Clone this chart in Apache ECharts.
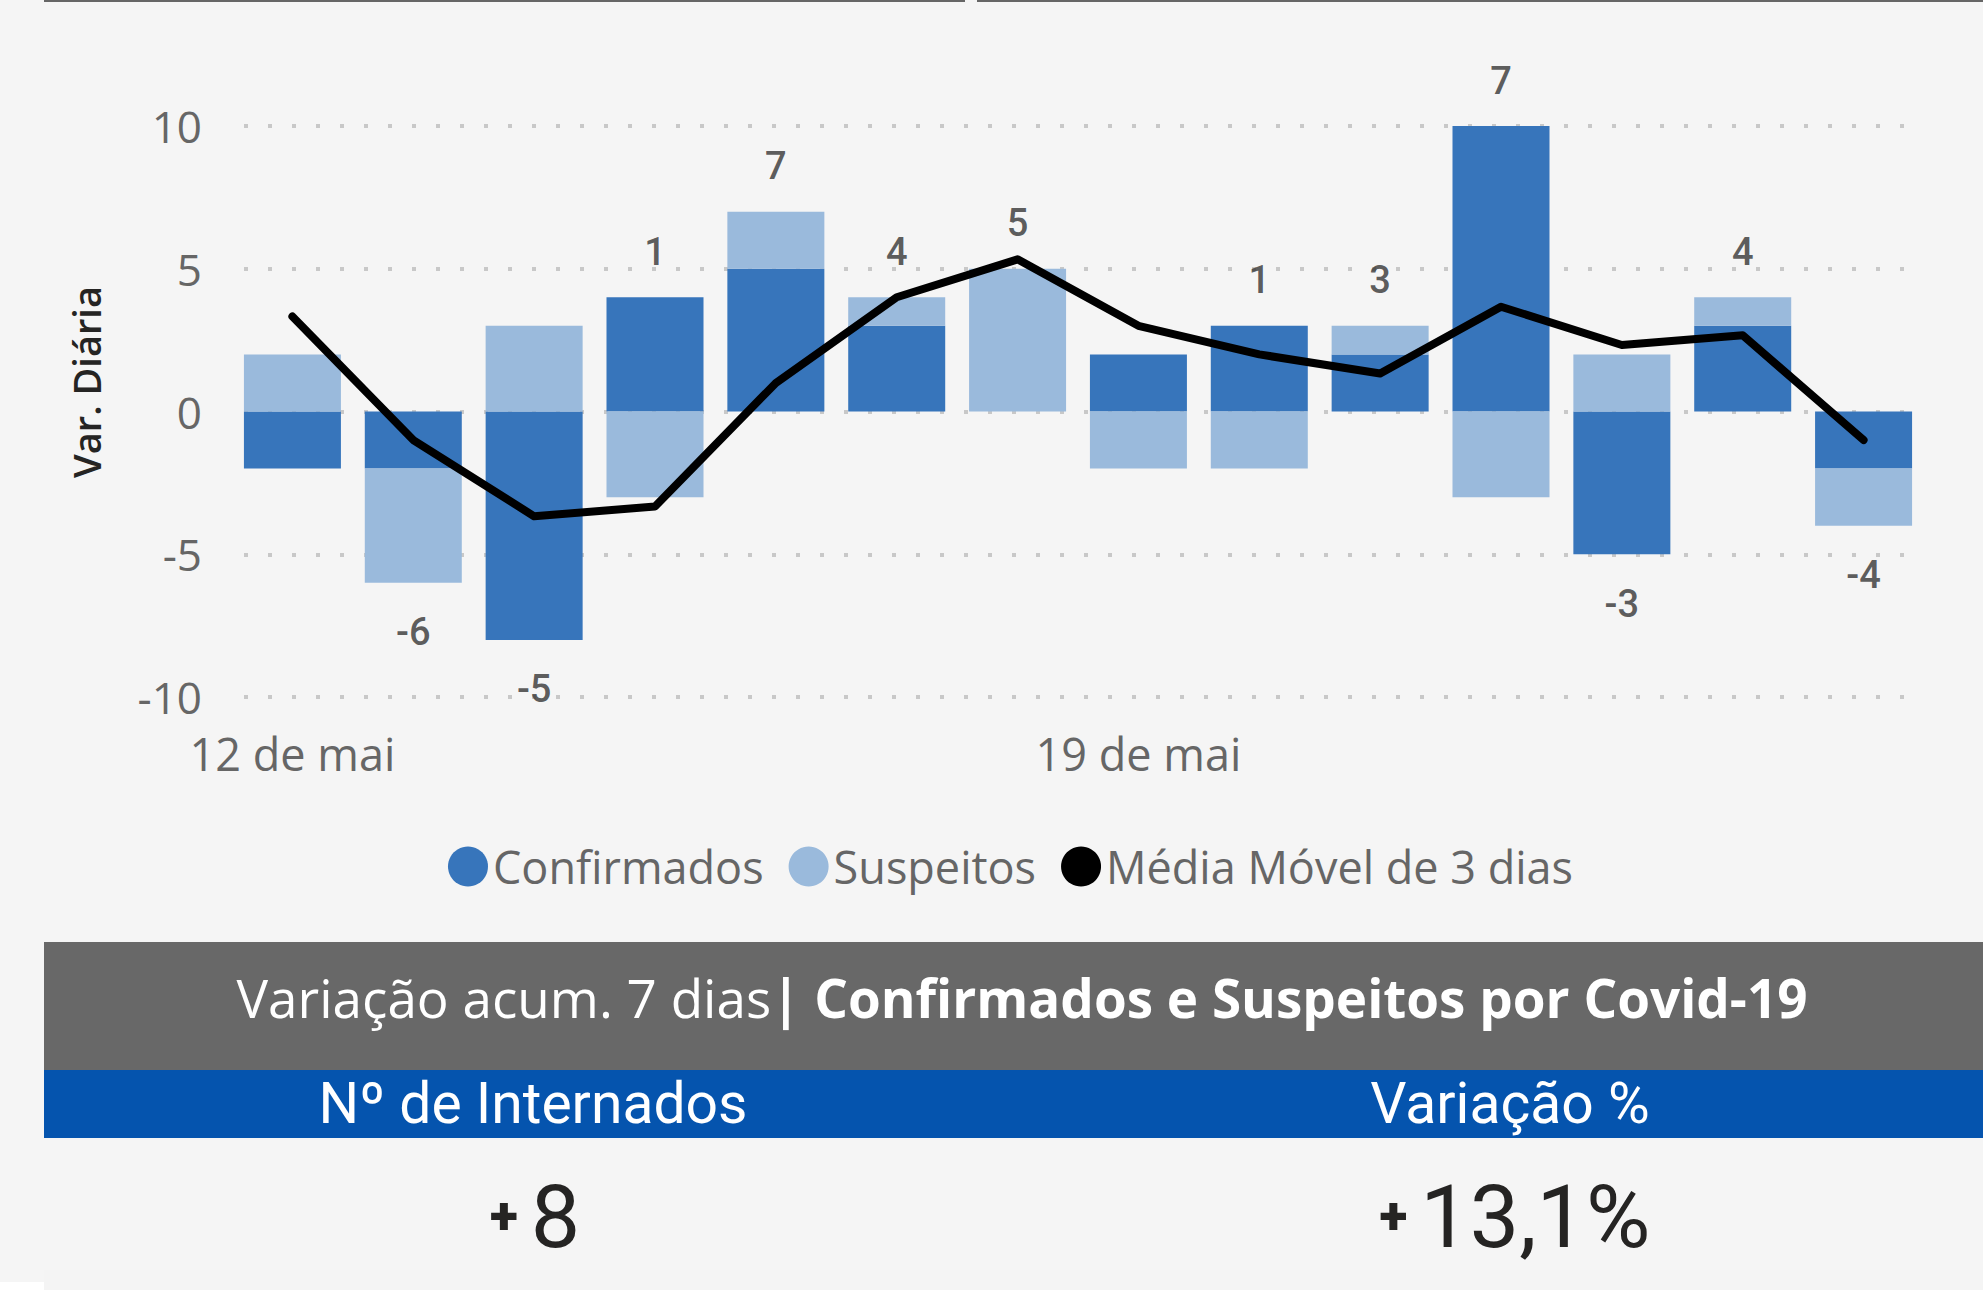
<!DOCTYPE html>
<html>
<head>
<meta charset="utf-8">
<script src="https://cdn.jsdelivr.net/npm/echarts@6/dist/echarts.min.js"></script>
<style>
  html, body { margin: 0; padding: 0; background: #ffffff; }
  #chart { width: 1983px; height: 1303px; }
</style>
</head>
<body>
<div id="chart"></div>
<script>
// ---- data ----
const categories = ['12 de mai','13 de mai','14 de mai','15 de mai','16 de mai','17 de mai','18 de mai',
                    '19 de mai','20 de mai','21 de mai','22 de mai','23 de mai','24 de mai','25 de mai'];
const confirmados = [-2, -2, -8, 4, 5, 3, 0, 2, 3, 2, 10, -5, 3, -2];
const suspeitos   = [ 2, -4,  3, -3, 2, 1, 5, -2, -2, 1, -3, 2, 1, -2];
const mediaMovel  = [3.33, -1, -3.67, -3.33, 1, 4, 5.33, 3, 2, 1.33, 3.67, 2.33, 2.67, -1];
const totalLabels = [null, -6, -5, 1, 7, 4, 5, null, 1, 3, 7, -3, 4, -4];
const seriesNames = ['Confirmados', 'Suspeitos', 'Média Móvel de 3 dias'];
const headerRegular = 'Variação acum. 7 dias';
const headerBold = '| Confirmados e Suspeitos por Covid-19';
const kpiTitles = ['Nº de Internados', 'Variação %'];
const kpiValues = ['8', '13,1%'];

// ---- build ----
const chart = echarts.init(document.getElementById('chart'), null, { renderer: 'svg' });

const totalPoints = [];
totalLabels.forEach((t, i) => {
  if (t === null) return;
  const pos = Math.max(confirmados[i], 0) + Math.max(suspeitos[i], 0);
  const neg = Math.min(confirmados[i], 0) + Math.min(suspeitos[i], 0);
  totalPoints.push({
    value: [i, t > 0 ? pos : neg],
    label: { position: t > 0 ? 'top' : 'bottom', distance: t > 0 ? 26 : 30, formatter: String(t) }
  });
});

const axisFont = '"Open Sans", "Noto Sans", sans-serif';
const dinFont = 'Roboto, "DejaVu Sans Condensed", sans-serif';

chart.setOption({
  backgroundColor: '#ffffff',
  animation: false,
  grid: { left: 232, right: 59, top: 126, bottom: 606, containLabel: false },
  legend: {
    data: seriesNames,
    left: 443, top: 839,
    icon: 'circle', itemWidth: 40, itemHeight: 40, itemGap: 25,
    textStyle: { fontSize: 45, color: '#666666', fontFamily: axisFont }
  },
  xAxis: {
    type: 'category',
    data: categories,
    axisLine: { show: false }, axisTick: { show: false },
    axisLabel: { interval: 6, fontSize: 45, color: '#666666', fontFamily: axisFont, margin: 34 }
  },
  yAxis: {
    type: 'value', min: -10, max: 10, interval: 5,
    axisLine: { show: false }, axisTick: { show: false },
    axisLabel: { fontSize: 44, color: '#666666', fontFamily: axisFont, margin: 30 },
    splitLine: { show: true, lineStyle: { color: '#C8C8C8', width: 4, type: [4, 20], dashOffset: 12 } }
  },
  graphic: [
    { type: 'rect', z: -10, silent: true, shape: { x: 0, y: 0, width: 1983, height: 1282 }, style: { fill: '#F5F5F5' } },
    { type: 'rect', z: -10, silent: true, shape: { x: 44, y: 1270, width: 1939, height: 20 }, style: { fill: '#F4F4F4' } },
    { type: 'rect', silent: true, shape: { x: 44, y: 0, width: 921, height: 2 }, style: { fill: '#666666' } },
    { type: 'rect', silent: true, shape: { x: 977, y: 0, width: 1006, height: 2 }, style: { fill: '#666666' } },
    { type: 'text', silent: true, x: 86, y: 382, rotation: Math.PI / 2,
      style: { text: 'Var. Diária', fill: '#252423', font: '600 38px "Open Sans", sans-serif',
               textAlign: 'center', textVerticalAlign: 'middle' } },
    { type: 'rect', silent: true, shape: { x: 44, y: 942, width: 1939, height: 128 }, style: { fill: '#686868' } },
    { type: 'rect', silent: true, shape: { x: 44, y: 1070, width: 1939, height: 68 }, style: { fill: '#0554AE' } },
    { type: 'text', silent: true, x: 1022, y: 997,
      style: {
        text: '{a|' + headerRegular + '}{b|' + headerBold + '}',
        textAlign: 'center', textVerticalAlign: 'middle',
        rich: {
          a: { fontSize: 53, fontFamily: axisFont, fontWeight: 400, fill: '#ffffff', color: '#ffffff' },
          b: { fontSize: 53, fontFamily: axisFont, fontWeight: 700, fill: '#ffffff', color: '#ffffff' }
        }
      } },
    { type: 'text', silent: true, x: 533, y: 1103,
      style: { text: kpiTitles[0], fill: '#ffffff', font: '400 57px Roboto, sans-serif', textAlign: 'center', textVerticalAlign: 'middle' } },
    { type: 'text', silent: true, x: 1510, y: 1103,
      style: { text: kpiTitles[1], fill: '#ffffff', font: '400 57px Roboto, sans-serif', textAlign: 'center', textVerticalAlign: 'middle' } },
    { type: 'text', silent: true, x: 535, y: 1216,
      style: { text: '{p|+ }{v|' + kpiValues[0] + '}', textAlign: 'center', textVerticalAlign: 'middle',
        rich: {
          p: { fontSize: 52, fontWeight: 900, fontFamily: dinFont, fill: '#252423', color: '#252423' },
          v: { fontSize: 88, fontWeight: 400, fontFamily: dinFont, fill: '#252423', color: '#252423' }
        } } },
    { type: 'text', silent: true, x: 1515, y: 1216,
      style: { text: '{p|+ }{v|' + kpiValues[1] + '}', textAlign: 'center', textVerticalAlign: 'middle',
        rich: {
          p: { fontSize: 52, fontWeight: 900, fontFamily: dinFont, fill: '#252423', color: '#252423' },
          v: { fontSize: 88, fontWeight: 400, fontFamily: dinFont, fill: '#252423', color: '#252423' }
        } } }
  ],
  series: [
    { name: seriesNames[0], type: 'bar', stack: 'total', barWidth: 97, data: confirmados,
      itemStyle: { color: '#3775BB' } },
    { name: seriesNames[1], type: 'bar', stack: 'total', barWidth: 97, data: suspeitos,
      itemStyle: { color: '#9ABADC' } },
    { name: seriesNames[2], type: 'line', data: mediaMovel, symbol: 'none', z: 5,
      itemStyle: { color: '#000000' }, lineStyle: { color: '#000000', width: 8, join: 'round', cap: 'round' } },
    { name: 'Total', type: 'scatter', data: totalPoints, symbolSize: 1, z: 6,
      itemStyle: { color: 'rgba(0,0,0,0)' },
      label: { show: true, fontSize: 38, fontWeight: 500, fontFamily: dinFont, color: '#333333' } }
  ]
});
</script>
</body>
</html>
